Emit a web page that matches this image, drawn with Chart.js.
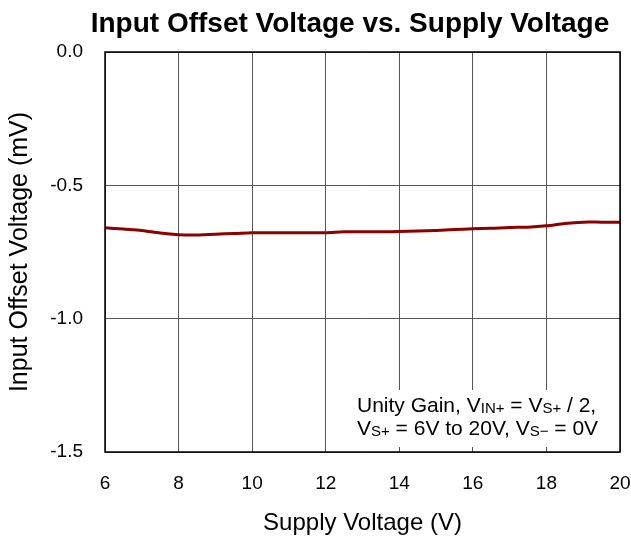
<!DOCTYPE html>
<html>
<head>
<meta charset="utf-8">
<script src="https://cdn.jsdelivr.net/npm/chart.js@4"></script>
<style>
  body { margin: 0; background: #fff; }
  #wrap { width: 631px; height: 542px; }
</style>
</head>
<body>
<div id="wrap"><canvas id="grafico"></canvas></div>
<script>
// datos
const voltajes = [6, 6.5, 7, 7.5, 8, 8.5, 9, 9.5, 10, 10.5, 11, 11.5, 12, 12.5, 13, 13.5, 14,
                  14.5, 15, 15.5, 16, 16.5, 17, 17.5, 18, 18.5, 19, 19.5, 20]
const offsetMv = [-0.659, -0.664, -0.669, -0.679, -0.685, -0.686, -0.683, -0.681, -0.678, -0.678,
                  -0.678, -0.678, -0.678, -0.674, -0.674, -0.674, -0.673, -0.671, -0.669, -0.666,
                  -0.663, -0.661, -0.658, -0.657, -0.652, -0.643, -0.638, -0.638, -0.638]
const ticksX = [6, 8, 10, 12, 14, 16, 18, 20]
const ticksY = [0, -0.5, -1.0, -1.5]

const titulo = 'Input Offset Voltage vs. Supply Voltage'
const tituloX = 'Supply Voltage (V)'
const tituloY = 'Input Offset Voltage (mV)'
// nota con subindices: [texto, esSubindice]
const nota = [
  [['Unity Gain, V', false], ['IN+', true], [' = V', false], ['S+', true], [' / 2,', false]],
  [['V', false], ['S+', true], [' = 6V to 20V, V', false], ['S\u2212', true], [' = 0V', false]]
]

const fuente = 'Liberation Sans, Arial, sans-serif'

const extras = {
  id: 'extras',
  afterDraw(chart) {
    const ctx = chart.ctx
    const area = chart.chartArea
    ctx.save()
    // titulo
    ctx.fillStyle = '#000'
    ctx.font = 'bold 28px ' + fuente
    ctx.textAlign = 'center'
    ctx.textBaseline = 'alphabetic'
    ctx.fillText(titulo, 350, 32)

    // recuadro de la nota
    ctx.fillStyle = '#fff'
    ctx.fillRect(350, 390, area.right - 351, 57)
    ctx.fillStyle = '#000'
    ctx.textAlign = 'left'
    nota.forEach((linea, i) => {
      let x = 357
      const base = 412 + i * 23
      linea.forEach(([txt, sub]) => {
        ctx.font = (sub ? '15px ' : '21px ') + fuente
        ctx.fillText(txt, x, sub ? base + 1 : base)
        x += ctx.measureText(txt).width
      })
    })

    // marco completo
    ctx.strokeStyle = '#000'
    ctx.lineWidth = 1.5
    ctx.strokeRect(area.left, area.top, area.right - area.left, area.bottom - area.top)
    ctx.restore()
  }
}

const config = {
  type: 'line',
  data: {
    datasets: [{
      data: voltajes.map((v, i) => ({ x: v, y: offsetMv[i] })),
      borderColor: '#8b0000',
      borderWidth: 3,
      pointRadius: 0,
      tension: 0.3,
      fill: false
    }]
  },
  options: {
    responsive: true,
    maintainAspectRatio: false,
    animation: false,
    layout: { padding: { top: 52, right: 11, left: 0, bottom: 0 } },
    plugins: { legend: { display: false }, tooltip: { enabled: false } },
    scales: {
      x: {
        type: 'linear',
        min: 6, max: 20,
        afterBuildTicks: s => { s.ticks = ticksX.map(v => ({ value: v })) },
        afterFit: s => { s.height = 90; s.paddingLeft = 0; s.paddingRight = 0 },
        grid: { color: '#555', lineWidth: 1, drawTicks: false },
        border: { display: false },
        ticks: { padding: 20, color: '#000', font: { family: fuente, size: 19 } },
        title: { display: true, text: tituloX, color: '#000', font: { family: fuente, size: 24 }, padding: { top: 0, bottom: 4 } }
      },
      y: {
        min: -1.5, max: 0,
        afterBuildTicks: s => { s.ticks = ticksY.map(v => ({ value: v })) },
        afterFit: s => { s.width = 105; s.paddingTop = 0; s.paddingBottom = 0 },
        grid: { color: '#555', lineWidth: 1, drawTicks: false },
        border: { display: false },
        ticks: { padding: 22, color: '#000', font: { family: fuente, size: 19 }, callback: v => v.toFixed(1) },
        title: { display: true, text: tituloY, color: '#000', font: { family: fuente, size: 25 }, padding: { top: 5, bottom: 0 } }
      }
    }
  },
  plugins: [extras]
}

new Chart(document.querySelector('#grafico'), config)
</script>
</body>
</html>
